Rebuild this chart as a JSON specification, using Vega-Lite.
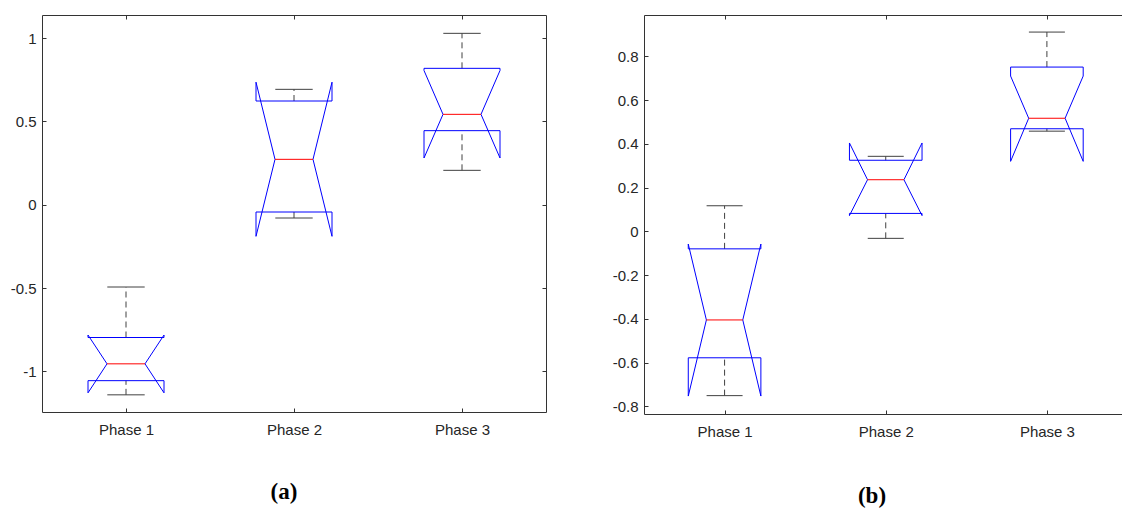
{
  "$schema": "https://vega.github.io/schema/vega-lite/v6.json",
  "padding": {"left": 10, "top": 14, "right": 0, "bottom": 0},
  "background": "white",
  "datasets": {
    "a": [
      {"phase": 1, "wlo": -1.141, "q1": -1.056, "nlo": -1.129, "med": -0.955, "nhi": -0.782, "q3": -0.797, "whi": -0.494},
      {"phase": 2, "wlo": -0.080, "q1": -0.044, "nlo": -0.190, "med": 0.272, "nhi": 0.735, "q3": 0.622, "whi": 0.692},
      {"phase": 3, "wlo": 0.206, "q1": 0.444, "nlo": 0.280, "med": 0.542, "nhi": 0.805, "q3": 0.818, "whi": 1.028}
    ],
    "b": [
      {"phase": 1, "wlo": -0.751, "q1": -0.578, "nlo": -0.753, "med": -0.405, "nhi": -0.058, "q3": -0.080, "whi": 0.117},
      {"phase": 2, "wlo": -0.032, "q1": 0.082, "nlo": 0.072, "med": 0.236, "nhi": 0.404, "q3": 0.325, "whi": 0.343},
      {"phase": 3, "wlo": 0.458, "q1": 0.469, "nlo": 0.320, "med": 0.517, "nhi": 0.710, "q3": 0.751, "whi": 0.911}
    ]
  },
  "spacing": 65,
  "hconcat": [
    {
      "data": {"name": "a"},
      "width": 504,
      "height": 397,
      "title": {"text": "(a)", "orient": "bottom", "anchor": "middle", "dx": -10, "offset": 44, "font": "Liberation Serif", "fontSize": 23, "fontWeight": "bold", "color": "#000"},
      "resolve": {"axis": {"x": "independent", "y": "independent"}},
      "layer": [
        {"mark": {"type": "rule", "color": "#404040", "strokeDash": [6, 4]},
         "encoding": {
           "x": {"field": "phase", "type": "quantitative", "scale": {"domain": [0.5, 3.5], "nice": false, "zero": false},
                 "axis": {"orient": "bottom", "values": [1, 2, 3], "labelExpr": "'Phase ' + datum.value", "title": null, "tickSize": -4, "labelPadding": 14}},
           "y": {"field": "q3", "type": "quantitative", "scale": {"domain": [-1.244, 1.138], "nice": false, "zero": false},
                 "axis": {"orient": "left", "values": [-1, -0.5, 0, 0.5, 1], "labelExpr": "'' + datum.value", "title": null, "tickSize": -4, "labelPadding": 10}},
           "y2": {"field": "whi"}}},
        {"mark": {"type": "rule", "color": "#404040", "strokeDash": [6, 4]},
         "encoding": {
           "x": {"field": "phase", "type": "quantitative", "scale": {"domain": [0.5, 3.5], "nice": false, "zero": false},
                 "axis": {"orient": "top", "values": [1, 2, 3], "labels": false, "title": null, "tickSize": -4}},
           "y": {"field": "wlo", "type": "quantitative", "scale": {"domain": [-1.244, 1.138], "nice": false, "zero": false},
                 "axis": {"orient": "right", "values": [-1, -0.5, 0, 0.5, 1], "labels": false, "title": null, "tickSize": -4}},
           "y2": {"field": "q1"}}},
        {"mark": {"type": "rule", "color": "#404040", "xOffset": -18.7, "x2Offset": 18.7},
         "encoding": {"x": {"field": "phase", "type": "quantitative", "scale": {"domain": [0.5, 3.5], "nice": false, "zero": false}, "axis": null}, "x2": {"field": "phase"},
           "y": {"field": "whi", "type": "quantitative", "scale": {"domain": [-1.244, 1.138], "nice": false, "zero": false}, "axis": null}}},
        {"mark": {"type": "rule", "color": "#404040", "xOffset": -18.7, "x2Offset": 18.7},
         "encoding": {"x": {"field": "phase", "type": "quantitative", "scale": {"domain": [0.5, 3.5], "nice": false, "zero": false}, "axis": null}, "x2": {"field": "phase"},
           "y": {"field": "wlo", "type": "quantitative", "scale": {"domain": [-1.244, 1.138], "nice": false, "zero": false}, "axis": null}}},
        {"mark": {"type": "rule", "color": "#0000ff", "xOffset": -38, "x2Offset": 38},
         "encoding": {"x": {"field": "phase", "type": "quantitative", "scale": {"domain": [0.5, 3.5], "nice": false, "zero": false}, "axis": null}, "x2": {"field": "phase"},
           "y": {"field": "q3", "type": "quantitative", "scale": {"domain": [-1.244, 1.138], "nice": false, "zero": false}, "axis": null}}},
        {"mark": {"type": "rule", "color": "#0000ff", "xOffset": -38, "x2Offset": 38},
         "encoding": {"x": {"field": "phase", "type": "quantitative", "scale": {"domain": [0.5, 3.5], "nice": false, "zero": false}, "axis": null}, "x2": {"field": "phase"},
           "y": {"field": "q1", "type": "quantitative", "scale": {"domain": [-1.244, 1.138], "nice": false, "zero": false}, "axis": null}}},
        {"mark": {"type": "rule", "color": "#0000ff", "xOffset": -38},
         "encoding": {"x": {"field": "phase", "type": "quantitative", "scale": {"domain": [0.5, 3.5], "nice": false, "zero": false}, "axis": null},
           "y": {"field": "q3", "type": "quantitative", "scale": {"domain": [-1.244, 1.138], "nice": false, "zero": false}, "axis": null}, "y2": {"field": "nhi"}}},
        {"mark": {"type": "rule", "color": "#0000ff", "xOffset": 38},
         "encoding": {"x": {"field": "phase", "type": "quantitative", "scale": {"domain": [0.5, 3.5], "nice": false, "zero": false}, "axis": null},
           "y": {"field": "q3", "type": "quantitative", "scale": {"domain": [-1.244, 1.138], "nice": false, "zero": false}, "axis": null}, "y2": {"field": "nhi"}}},
        {"mark": {"type": "rule", "color": "#0000ff", "xOffset": -38},
         "encoding": {"x": {"field": "phase", "type": "quantitative", "scale": {"domain": [0.5, 3.5], "nice": false, "zero": false}, "axis": null},
           "y": {"field": "q1", "type": "quantitative", "scale": {"domain": [-1.244, 1.138], "nice": false, "zero": false}, "axis": null}, "y2": {"field": "nlo"}}},
        {"mark": {"type": "rule", "color": "#0000ff", "xOffset": 38},
         "encoding": {"x": {"field": "phase", "type": "quantitative", "scale": {"domain": [0.5, 3.5], "nice": false, "zero": false}, "axis": null},
           "y": {"field": "q1", "type": "quantitative", "scale": {"domain": [-1.244, 1.138], "nice": false, "zero": false}, "axis": null}, "y2": {"field": "nlo"}}},
        {"mark": {"type": "rule", "color": "#0000ff", "xOffset": -38, "x2Offset": -19},
         "encoding": {"x": {"field": "phase", "type": "quantitative", "scale": {"domain": [0.5, 3.5], "nice": false, "zero": false}, "axis": null}, "x2": {"field": "phase"},
           "y": {"field": "nhi", "type": "quantitative", "scale": {"domain": [-1.244, 1.138], "nice": false, "zero": false}, "axis": null}, "y2": {"field": "med"}}},
        {"mark": {"type": "rule", "color": "#0000ff", "xOffset": 38, "x2Offset": 19},
         "encoding": {"x": {"field": "phase", "type": "quantitative", "scale": {"domain": [0.5, 3.5], "nice": false, "zero": false}, "axis": null}, "x2": {"field": "phase"},
           "y": {"field": "nhi", "type": "quantitative", "scale": {"domain": [-1.244, 1.138], "nice": false, "zero": false}, "axis": null}, "y2": {"field": "med"}}},
        {"mark": {"type": "rule", "color": "#0000ff", "xOffset": -38, "x2Offset": -19},
         "encoding": {"x": {"field": "phase", "type": "quantitative", "scale": {"domain": [0.5, 3.5], "nice": false, "zero": false}, "axis": null}, "x2": {"field": "phase"},
           "y": {"field": "nlo", "type": "quantitative", "scale": {"domain": [-1.244, 1.138], "nice": false, "zero": false}, "axis": null}, "y2": {"field": "med"}}},
        {"mark": {"type": "rule", "color": "#0000ff", "xOffset": 38, "x2Offset": 19},
         "encoding": {"x": {"field": "phase", "type": "quantitative", "scale": {"domain": [0.5, 3.5], "nice": false, "zero": false}, "axis": null}, "x2": {"field": "phase"},
           "y": {"field": "nlo", "type": "quantitative", "scale": {"domain": [-1.244, 1.138], "nice": false, "zero": false}, "axis": null}, "y2": {"field": "med"}}},
        {"mark": {"type": "rule", "color": "#ff0000", "xOffset": -19, "x2Offset": 19},
         "encoding": {"x": {"field": "phase", "type": "quantitative", "scale": {"domain": [0.5, 3.5], "nice": false, "zero": false}, "axis": null}, "x2": {"field": "phase"},
           "y": {"field": "med", "type": "quantitative", "scale": {"domain": [-1.244, 1.138], "nice": false, "zero": false}, "axis": null}}}
      ]
    },
    {
      "data": {"name": "b"},
      "width": 478,
      "height": 399,
      "title": {"text": "(b)", "orient": "bottom", "anchor": "middle", "dx": -11, "offset": 46, "font": "Liberation Serif", "fontSize": 23, "fontWeight": "bold", "color": "#000"},
      "resolve": {"axis": {"x": "independent", "y": "independent"}},
      "layer": [
        {"mark": {"type": "rule", "color": "#404040", "strokeDash": [6, 4]},
         "encoding": {
           "x": {"field": "phase", "type": "quantitative", "scale": {"domain": [0.5, 3.466], "nice": false, "zero": false},
                 "axis": {"orient": "bottom", "values": [1, 2, 3], "labelExpr": "'Phase ' + datum.value", "title": null, "tickSize": -4, "labelPadding": 14}},
           "y": {"field": "q3", "type": "quantitative", "scale": {"domain": [-0.835, 0.989], "nice": false, "zero": false},
                 "axis": {"orient": "left", "values": [-0.8, -0.6, -0.4, -0.2, 0, 0.2, 0.4, 0.6, 0.8], "labelExpr": "'' + datum.value", "title": null, "tickSize": -4, "labelPadding": 10}},
           "y2": {"field": "whi"}}},
        {"mark": {"type": "rule", "color": "#404040", "strokeDash": [6, 4]},
         "encoding": {
           "x": {"field": "phase", "type": "quantitative", "scale": {"domain": [0.5, 3.466], "nice": false, "zero": false},
                 "axis": {"orient": "top", "values": [1, 2, 3], "labels": false, "title": null, "tickSize": -4}},
           "y": {"field": "wlo", "type": "quantitative", "scale": {"domain": [-0.835, 0.989], "nice": false, "zero": false}, "axis": null},
           "y2": {"field": "q1"}}},
        {"mark": {"type": "rule", "color": "#404040", "xOffset": -18, "x2Offset": 18},
         "encoding": {"x": {"field": "phase", "type": "quantitative", "scale": {"domain": [0.5, 3.466], "nice": false, "zero": false}, "axis": null}, "x2": {"field": "phase"},
           "y": {"field": "whi", "type": "quantitative", "scale": {"domain": [-0.835, 0.989], "nice": false, "zero": false}, "axis": null}}},
        {"mark": {"type": "rule", "color": "#404040", "xOffset": -18, "x2Offset": 18},
         "encoding": {"x": {"field": "phase", "type": "quantitative", "scale": {"domain": [0.5, 3.466], "nice": false, "zero": false}, "axis": null}, "x2": {"field": "phase"},
           "y": {"field": "wlo", "type": "quantitative", "scale": {"domain": [-0.835, 0.989], "nice": false, "zero": false}, "axis": null}}},
        {"mark": {"type": "rule", "color": "#0000ff", "xOffset": -36.3, "x2Offset": 36.3},
         "encoding": {"x": {"field": "phase", "type": "quantitative", "scale": {"domain": [0.5, 3.466], "nice": false, "zero": false}, "axis": null}, "x2": {"field": "phase"},
           "y": {"field": "q3", "type": "quantitative", "scale": {"domain": [-0.835, 0.989], "nice": false, "zero": false}, "axis": null}}},
        {"mark": {"type": "rule", "color": "#0000ff", "xOffset": -36.3, "x2Offset": 36.3},
         "encoding": {"x": {"field": "phase", "type": "quantitative", "scale": {"domain": [0.5, 3.466], "nice": false, "zero": false}, "axis": null}, "x2": {"field": "phase"},
           "y": {"field": "q1", "type": "quantitative", "scale": {"domain": [-0.835, 0.989], "nice": false, "zero": false}, "axis": null}}},
        {"mark": {"type": "rule", "color": "#0000ff", "xOffset": -36.3},
         "encoding": {"x": {"field": "phase", "type": "quantitative", "scale": {"domain": [0.5, 3.466], "nice": false, "zero": false}, "axis": null},
           "y": {"field": "q3", "type": "quantitative", "scale": {"domain": [-0.835, 0.989], "nice": false, "zero": false}, "axis": null}, "y2": {"field": "nhi"}}},
        {"mark": {"type": "rule", "color": "#0000ff", "xOffset": 36.3},
         "encoding": {"x": {"field": "phase", "type": "quantitative", "scale": {"domain": [0.5, 3.466], "nice": false, "zero": false}, "axis": null},
           "y": {"field": "q3", "type": "quantitative", "scale": {"domain": [-0.835, 0.989], "nice": false, "zero": false}, "axis": null}, "y2": {"field": "nhi"}}},
        {"mark": {"type": "rule", "color": "#0000ff", "xOffset": -36.3},
         "encoding": {"x": {"field": "phase", "type": "quantitative", "scale": {"domain": [0.5, 3.466], "nice": false, "zero": false}, "axis": null},
           "y": {"field": "q1", "type": "quantitative", "scale": {"domain": [-0.835, 0.989], "nice": false, "zero": false}, "axis": null}, "y2": {"field": "nlo"}}},
        {"mark": {"type": "rule", "color": "#0000ff", "xOffset": 36.3},
         "encoding": {"x": {"field": "phase", "type": "quantitative", "scale": {"domain": [0.5, 3.466], "nice": false, "zero": false}, "axis": null},
           "y": {"field": "q1", "type": "quantitative", "scale": {"domain": [-0.835, 0.989], "nice": false, "zero": false}, "axis": null}, "y2": {"field": "nlo"}}},
        {"mark": {"type": "rule", "color": "#0000ff", "xOffset": -36.3, "x2Offset": -18.2},
         "encoding": {"x": {"field": "phase", "type": "quantitative", "scale": {"domain": [0.5, 3.466], "nice": false, "zero": false}, "axis": null}, "x2": {"field": "phase"},
           "y": {"field": "nhi", "type": "quantitative", "scale": {"domain": [-0.835, 0.989], "nice": false, "zero": false}, "axis": null}, "y2": {"field": "med"}}},
        {"mark": {"type": "rule", "color": "#0000ff", "xOffset": 36.3, "x2Offset": 18.2},
         "encoding": {"x": {"field": "phase", "type": "quantitative", "scale": {"domain": [0.5, 3.466], "nice": false, "zero": false}, "axis": null}, "x2": {"field": "phase"},
           "y": {"field": "nhi", "type": "quantitative", "scale": {"domain": [-0.835, 0.989], "nice": false, "zero": false}, "axis": null}, "y2": {"field": "med"}}},
        {"mark": {"type": "rule", "color": "#0000ff", "xOffset": -36.3, "x2Offset": -18.2},
         "encoding": {"x": {"field": "phase", "type": "quantitative", "scale": {"domain": [0.5, 3.466], "nice": false, "zero": false}, "axis": null}, "x2": {"field": "phase"},
           "y": {"field": "nlo", "type": "quantitative", "scale": {"domain": [-0.835, 0.989], "nice": false, "zero": false}, "axis": null}, "y2": {"field": "med"}}},
        {"mark": {"type": "rule", "color": "#0000ff", "xOffset": 36.3, "x2Offset": 18.2},
         "encoding": {"x": {"field": "phase", "type": "quantitative", "scale": {"domain": [0.5, 3.466], "nice": false, "zero": false}, "axis": null}, "x2": {"field": "phase"},
           "y": {"field": "nlo", "type": "quantitative", "scale": {"domain": [-0.835, 0.989], "nice": false, "zero": false}, "axis": null}, "y2": {"field": "med"}}},
        {"mark": {"type": "rule", "color": "#ff0000", "xOffset": -18.2, "x2Offset": 18.2},
         "encoding": {"x": {"field": "phase", "type": "quantitative", "scale": {"domain": [0.5, 3.466], "nice": false, "zero": false}, "axis": null}, "x2": {"field": "phase"},
           "y": {"field": "med", "type": "quantitative", "scale": {"domain": [-0.835, 0.989], "nice": false, "zero": false}, "axis": null}}}
      ]
    }
  ],
  "config": {
    "view": {"stroke": null},
    "axis": {
      "grid": false,
      "domainColor": "#333333",
      "tickColor": "#333333",
      "labelColor": "#262626",
      "labelFont": "Liberation Sans",
      "labelFontSize": 15,
      "domainWidth": 1,
      "tickWidth": 1
    }
  }
}
